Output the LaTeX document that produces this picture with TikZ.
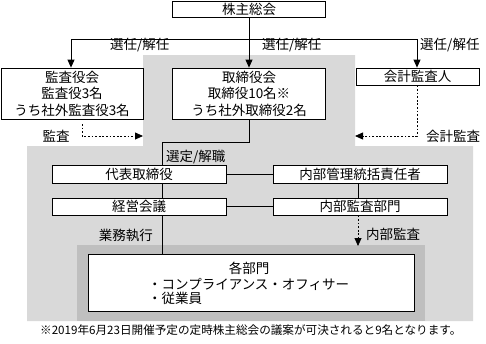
\documentclass[tikz,border=0pt]{standalone}
\usepackage{fontspec}
\setmainfont{Noto Sans CJK JP}
\usetikzlibrary{arrows.meta}
\definecolor{lg}{RGB}{217,217,217}
\definecolor{dg}{RGB}{191,191,191}
\begin{document}
\begin{tikzpicture}[x=1pt,y=-1pt,
  box/.style={draw=black, line width=0.8pt, fill=white, inner sep=0pt, align=center, font=\fontsize{13.5}{16.5}\selectfont},
  lbl/.style={inner sep=0pt, font=\fontsize{13.5}{16}\selectfont},
  conn/.style={line width=0.8pt},
  arr/.style={conn, -{Triangle[width=7pt,length=8pt]}},
  darr/.style={line width=0.8pt, dash pattern=on 1.8pt off 1.8pt, -{Triangle[width=7pt,length=8pt]}}]
\useasboundingbox (0,0) rectangle (486,343);
% background regions
\fill[lg] (143,55) -- (355,55) -- (355,146) -- (473,146) -- (473,321) -- (27,321) -- (27,146) -- (143,146) -- cycle;
\fill[dg] (77,245) rectangle (425,321);
% boxes
\node[box, minimum width=153pt, minimum height=16pt] (soukai) at (249,9) {株主総会};
\node[box, minimum width=142pt, minimum height=51pt] (kansa) at (72,93.5) {監査役会\\監査役3名\\うち社外監査役3名};
\node[box, minimum width=153pt, minimum height=51pt] (tori) at (249,93.5) {取締役会\\取締役10名※\\うち社外取締役2名};
\node[box, minimum width=123pt, minimum height=17pt] (kaikei) at (417.5,76.5) {会計監査人};
\node[box, minimum width=174pt, minimum height=18pt] (daihyo) at (139,174) {代表取締役};
\node[box, minimum width=174pt, minimum height=18pt] (naibu) at (360,174) {内部管理統括責任者};
\node[box, minimum width=174pt, minimum height=17pt] (keiei) at (139,206.5) {経営会議};
\node[box, minimum width=174pt, minimum height=17pt] (kansabu) at (360,206.5) {内部監査部門};
\node[box, line width=1pt, minimum width=326pt, minimum height=57pt] (kakubu) at (251,282.5) {};
\node[lbl] (kakubuT) at (249,268) {各部門};
\node[lbl, anchor=west] (kakubuA) at (148,284) {・コンプライアンス・オフィサー};
\node[lbl, anchor=west] (kakubuB) at (148,298) {・従業員};
% top connectors
\coordinate (bl) at (71,39);
\coordinate (br) at (417,39);
\draw[conn] (bl) -- (br);
\draw[arr] (soukai.south) -- (tori.north);
\draw[arr] (bl) -- (bl |- kansa.north);
\draw[arr] (br) -- (br |- kaikei.north);
\node[lbl, anchor=west] (l1) at (110,45) {選任/解任};
\node[lbl, anchor=west] (l2) at (262,45) {選任/解任};
\node[lbl, anchor=west] (l3) at (420,45) {選任/解任};
% audit dashed
\coordinate (ka1) at (82,124);
\coordinate (ka2) at (82,136);
\coordinate (ka3) at (143,136);
\draw[darr] (ka1) -- (ka2) -- (ka3);
\node[lbl] (lk) at (56,136) {監査};
\coordinate (kk2) at (417,136);
\coordinate (kk3) at (355,136);
\draw[darr] (kaikei.south -| kk2) -- (kk2) -- (kk3);
\node[lbl] (lkk) at (453,136) {会計監査};
% internal
\coordinate (t1) at (249,142);
\coordinate (t2) at (162,142);
\draw[conn] (tori.south) -- (t1) -- (t2) -- (t2 |- daihyo.north);
\node[lbl, anchor=west] (lsen) at (166,157) {選定/解職};
\draw[conn] (daihyo.east) -- (naibu.west);
\draw[conn] (keiei.east) -- (kansabu.west);
\draw[conn] (daihyo.south -| t2) -- (keiei.north -| t2);
\coordinate (nx) at (358,0);
\draw[conn] (naibu.south -| nx) -- (kansabu.north -| nx);
\draw[conn] (keiei.south -| t2) -- (kakubu.north -| t2);
\node[lbl, anchor=east] (lgyo) at (153,235) {業務執行};
\coordinate (na) at (358,246);
\draw[darr] (kansabu.south -| nx) -- (na);
\node[lbl, anchor=west] (lnai) at (366,234) {内部監査};
% footnote
\node[inner sep=0pt, anchor=west, font=\fontsize{11.6}{13}\selectfont] (fn) at (40,330) {※2019年6月23日開催予定の定時株主総会の議案が可決されると9名となります。};
\end{tikzpicture}
\end{document}
